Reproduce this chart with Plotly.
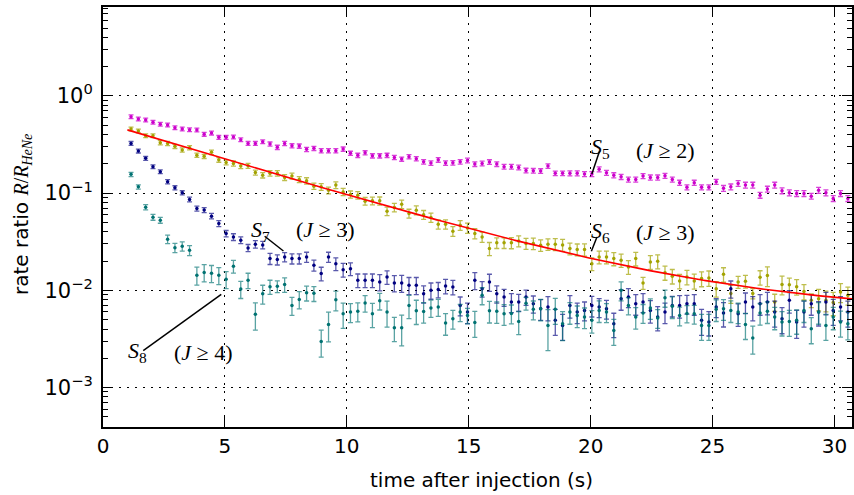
import math
import numpy as np
import plotly.graph_objects as go

# time bins after injection (s)
t = [round(1.15 + 0.3 * i, 2) for i in range(99)]

# S5 (J >= 2) rate ratio
s5 = [0.612, 0.579, 0.566, 0.536, 0.511, 0.502, 0.471, 0.457, 0.449, 0.446,
      0.403, 0.415, 0.375, 0.375, 0.378, 0.354, 0.325, 0.325, 0.338,
      0.320, 0.296, 0.325, 0.307, 0.305, 0.282, 0.289, 0.273, 0.273, 0.273,
      0.284, 0.257, 0.245, 0.260, 0.242, 0.242, 0.245, 0.233, 0.224, 0.237, 0.226,
      0.210, 0.204, 0.220, 0.204, 0.205, 0.210, 0.217, 0.199, 0.202, 0.209,
      0.199, 0.187, 0.187, 0.184, 0.171, 0.170, 0.169, 0.190, 0.160, 0.160,
      0.160, 0.160, 0.157, 0.157, 0.176, 0.162, 0.153, 0.147, 0.138, 0.138,
      0.150, 0.145, 0.145, 0.151, 0.138, 0.128, 0.115, 0.128, 0.115, 0.115, 0.131,
      0.112, 0.116, 0.126, 0.121, 0.121, 0.0953, 0.110, 0.121, 0.106, 0.101,
      0.0993, 0.0993, 0.0931, 0.107, 0.101, 0.0882, 0.0993, 0.0882]
s5_rel = [
    0.045, 0.045, 0.045, 0.045, 0.045, 0.045, 0.045, 0.045, 0.045, 0.045,
    0.045, 0.045, 0.045, 0.045, 0.045, 0.045, 0.045, 0.045, 0.045,
    0.05, 0.05, 0.05, 0.05, 0.05, 0.05, 0.05, 0.05, 0.05, 0.05,
    0.05, 0.05, 0.05, 0.05, 0.05, 0.05, 0.05, 0.05, 0.05, 0.05, 0.05,
    0.055, 0.055, 0.055, 0.055, 0.055, 0.055, 0.055, 0.055, 0.055, 0.055,
    0.055, 0.055, 0.055, 0.055, 0.055, 0.055, 0.055, 0.055, 0.055, 0.055,
    0.06, 0.06, 0.06, 0.06, 0.06, 0.06, 0.06, 0.06, 0.06, 0.06,
    0.06, 0.06, 0.06, 0.06, 0.06, 0.06, 0.06, 0.06, 0.06, 0.06, 0.06,
    0.07, 0.07, 0.07, 0.07, 0.07, 0.07, 0.07, 0.07, 0.07, 0.07,
    0.07, 0.07, 0.07, 0.07, 0.07, 0.07, 0.07, 0.07]

# S6 (J >= 3) rate ratio
s6 = [0.457, 0.436, 0.390, 0.390, 0.330, 0.325, 0.303, 0.278, 0.293, 0.246,
      0.239, 0.263, 0.220, 0.207, 0.202, 0.190, 0.191, 0.163, 0.153,
      0.160, 0.160, 0.145, 0.150, 0.138, 0.134, 0.118, 0.116, 0.107, 0.121,
      0.103, 0.0970, 0.0953, 0.0827, 0.0833, 0.0833, 0.0652, 0.0712, 0.0770, 0.0618, 0.0668,
      0.0600, 0.0562, 0.0479, 0.0479, 0.0406, 0.0468, 0.0439, 0.0384, 0.0354, 0.0269,
      0.0308, 0.0308, 0.0308, 0.0322, 0.0303, 0.0303, 0.0291, 0.0298, 0.0298, 0.0293,
      0.0269, 0.0263, 0.0263, 0.0188, 0.0220, 0.0220, 0.0212, 0.0204, 0.0174, 0.0212,
      0.0119, 0.0196, 0.0199, 0.0152, 0.0140, 0.0125, 0.0137, 0.0125, 0.0132, 0.0134, 0.0104,
      0.0146, 0.0093, 0.0122, 0.0124, 0.0093, 0.0136, 0.0142, 0.0076, 0.0115, 0.0114,
      0.0109, 0.0097, 0.0079, 0.0082, 0.0079, 0.0075, 0.0096, 0.0089]
s6_rel = [0.045, 0.045, 0.045, 0.045, 0.05, 0.05, 0.05, 0.05, 0.05, 0.05,
          0.05, 0.055, 0.055, 0.055, 0.06, 0.06, 0.06, 0.06, 0.065,
          0.065, 0.065, 0.07, 0.07, 0.07, 0.075, 0.075, 0.08, 0.08, 0.08,
          0.085, 0.085, 0.09, 0.09, 0.09, 0.095, 0.1, 0.1, 0.1, 0.105, 0.105,
          0.105, 0.11, 0.11, 0.11, 0.115, 0.115, 0.12, 0.12, 0.12, 0.155,
          0.125, 0.125, 0.13, 0.13, 0.13, 0.135, 0.135, 0.135, 0.14, 0.14,
          0.14, 0.14, 0.145, 0.15, 0.15, 0.15, 0.155, 0.155, 0.16, 0.16,
          0.14, 0.16, 0.165, 0.165, 0.17, 0.17, 0.17, 0.175, 0.175, 0.18, 0.18,
          0.17, 0.21, 0.14, 0.15, 0.12, 0.17, 0.23, 0.2, 0.22, 0.17,
          0.18, 0.18, 0.16, 0.25, 0.24, 0.27, 0.22, 0.21]

# S7 (J >= 3) rate ratio
s7 = [0.325, 0.271, 0.228, 0.187, 0.166, 0.131, 0.1135, 0.1008, 0.0861, 0.0695,
      0.067, 0.058, 0.0487, 0.0384, 0.0354, 0.0328, 0.0273, 0.0298, 0.0293,
      0.0212, 0.0207, 0.0220, 0.0212, 0.0212, 0.0220, 0.0181, 0.0149, 0.0220, 0.0188,
      0.0163, 0.0167, 0.0127, 0.0127, 0.0127, 0.0122, 0.0137, 0.0119, 0.0119, 0.0113, 0.0113,
      0.00925, 0.0100, 0.0102, 0.0111, 0.0108, 0.0070, 0.00597, 0.0127, 0.0104, 0.0122,
      0.00925, 0.00853, 0.00757, 0.00757, 0.00853, 0.00729, 0.00647, 0.00673, 0.00491, 0.00436,
      0.0070, 0.00597, 0.00622, 0.0070, 0.00673, 0.00647, 0.00454, 0.00821, 0.00853, 0.00729,
      0.00757, 0.00622, 0.00531, 0.00597, 0.0070, 0.0070, 0.00729, 0.00729, 0.00491, 0.00471, 0.00673,
      0.00583, 0.0104, 0.00575, 0.00757, 0.00673, 0.00729, 0.00757, 0.00597, 0.00511, 0.00789,
      0.00471, 0.00597, 0.00729, 0.00597, 0.00757, 0.00622, 0.00673, 0.00597]
s7_rel = [0.045, 0.045, 0.045, 0.045, 0.045, 0.05, 0.05, 0.05, 0.055, 0.06,
          0.06, 0.065, 0.07, 0.075, 0.08, 0.08, 0.085, 0.09, 0.09,
          0.13, 0.12, 0.11, 0.12, 0.12, 0.12, 0.13, 0.16, 0.12, 0.15,
          0.16, 0.15, 0.16, 0.16, 0.16, 0.19, 0.16, 0.19, 0.2, 0.2, 0.2,
          0.2, 0.19, 0.18, 0.17, 0.17, 0.22, 0.24, 0.2, 0.18, 0.2,
          0.2, 0.2, 0.22, 0.2, 0.18, 0.2, 0.24, 0.28, 0.3, 0.3,
          0.26, 0.24, 0.22, 0.24, 0.22, 0.22, 0.28, 0.24, 0.22, 0.24,
          0.22, 0.26, 0.28, 0.24, 0.24, 0.26, 0.22, 0.24, 0.3, 0.28, 0.22,
          0.28, 0.2, 0.26, 0.24, 0.28, 0.24, 0.26, 0.3, 0.3, 0.26,
          0.32, 0.3, 0.24, 0.28, 0.26, 0.3, 0.28, 0.3]

# S8 (J >= 4) rate ratio
s8 = [0.156, 0.116, 0.0717, 0.0566, 0.0527, 0.0336, 0.0274, 0.0284, 0.0258, 0.0143,
      0.0153, 0.0150, 0.0143, 0.0130, 0.0177, 0.0103, 0.0127, 0.00566, 0.00925,
      0.0109, 0.0110, 0.0115, 0.0070, 0.00807, 0.00942, 0.00931, 0.00298, 0.00446, 0.00798,
      0.00573, 0.00597, 0.00608, 0.00740, 0.00575, 0.00780, 0.00597, 0.00412, 0.00412, 0.0070, 0.00618,
      0.00604, 0.00660, 0.00673, 0.00460, 0.00511, 0.00597, 0.00552, 0.00468, 0.00888, 0.00615,
      0.0061, 0.00575, 0.00579, 0.00479, 0.00735, 0.00637, 0.00647, 0.00436, 0.00637, 0.00454,
      0.00597, 0.00552, 0.00531, 0.00491, 0.00622, 0.00597, 0.00387, 0.0100, 0.0070, 0.00531,
      0.00586, 0.0066, 0.0052, 0.00837, 0.00684, 0.00552, 0.00579, 0.00575, 0.00436, 0.00436, 0.00637,
      0.00647, 0.00622, 0.00597, 0.00446, 0.00324, 0.00586, 0.00608, 0.00531, 0.00471, 0.00479,
      0.00491, 0.00622, 0.00403, 0.00597, 0.00436, 0.00531, 0.00471, 0.00454]
s8_rel = [0.05, 0.05, 0.06, 0.07, 0.07, 0.1, 0.11, 0.11, 0.12, 0.21,
          0.2, 0.2, 0.2, 0.2, 0.15, 0.2, 0.18, 0.31, 0.22,
          0.165, 0.14, 0.17, 0.21, 0.2, 0.175, 0.175, 0.31, 0.34, 0.23,
          0.29, 0.22, 0.22, 0.195, 0.28, 0.195, 0.3, 0.28, 0.35, 0.27, 0.28,
          0.24, 0.2, 0.2, 0.25, 0.22, 0.2, 0.18, 0.3, 0.2, 0.25,
          0.25, 0.24, 0.22, 0.27, 0.15, 0.22, 0.25, 0.45, 0.3, 0.33,
          0.25, 0.25, 0.24, 0.26, 0.25, 0.22, 0.3, 0.22, 0.2, 0.25,
          0.22, 0.24, 0.22, 0.2, 0.25, 0.22, 0.2, 0.22, 0.3, 0.3, 0.25,
          0.24, 0.25, 0.24, 0.3, 0.32, 0.25, 0.25, 0.26, 0.28, 0.3,
          0.28, 0.25, 0.3, 0.25, 0.3, 0.26, 0.3, 0.32]

# exponential-plus-background fit to S6
fit_amp = 0.527
fit_tau = 5.68
fit_bg = 0.0058
fit_t0, fit_t1 = 1.0, 30.8

series = [
    (s5, s5_rel, "#cc00cc", "rgba(204,0,204,0.75)"),
    (s6, s6_rel, "#a3a300", "rgba(163,163,0,0.7)"),
    (s7, s7_rel, "#000080", "rgba(0,0,128,0.65)"),
    (s8, s8_rel, "#007272", "rgba(0,114,114,0.65)"),
]

fig = go.Figure()
for vals, rel, col, barcol in series:
    fig.add_trace(go.Scatter(
        x=t, y=vals, mode="markers",
        marker=dict(color=col, size=3.5),
        error_y=dict(type="data", array=[v * r for v, r in zip(vals, rel)],
                     color=barcol, thickness=1.3, width=2.5),
        showlegend=False, hoverinfo="skip"))

tf = np.linspace(fit_t0, fit_t1, 300)
fig.add_trace(go.Scatter(x=tf, y=fit_amp * np.exp(-tf / fit_tau) + fit_bg,
                         mode="lines", line=dict(color="#ff0000", width=1.6),
                         showlegend=False, hoverinfo="skip"))

# pointer lines from labels to the series
pointers = [
    ((20.37, 0.273), (t[63], s5[63])),
    ((20.26, 0.0354), (20.03, 0.0252)),
    ((6.63, 0.0360), (7.40, 0.0254)),
    ((1.65, 0.0024), (4.85, 0.0091)),
]
for (xa, ya), (xb, yb) in pointers:
    fig.add_trace(go.Scatter(x=[xa, xb], y=[ya, yb], mode="lines",
                             line=dict(color="black", width=1.5),
                             showlegend=False, hoverinfo="skip"))

serif = "Liberation Serif, DejaVu Serif, serif"
labels = [
    (20.41, 0.291, "<i>S</i><sub>5</sub>"),
    (23.07, 0.277, "(<i>J</i> ≥ 2)"),
    (20.41, 0.0396, "<i>S</i><sub>6</sub>"),
    (23.07, 0.0396, "(<i>J</i> ≥ 3)"),
    (6.46, 0.0406, "<i>S</i><sub>7</sub>"),
    (9.12, 0.0425, "(<i>J</i> ≥ 3)"),
    (1.43, 0.0023, "<i>S</i><sub>8</sub>"),
    (4.13, 0.0023, "(<i>J</i> ≥ 4)"),
]
annotations = [dict(x=x, y=math.log10(y), xref="x", yref="y", text=txt,
                    showarrow=False, font=dict(family=serif, size=22, color="black"),
                    xanchor="center", yanchor="middle")
               for x, y, txt in labels]

annotations.append(dict(
    x=0.505, y=-0.126, xref="paper", yref="paper",
    text="time after injection (s)", showarrow=False,
    font=dict(family="DejaVu Sans", size=20, color="black"),
    xanchor="center", yanchor="middle"))
annotations.append(dict(
    x=-0.108, y=0.505, xref="paper", yref="paper", textangle=-90,
    text='rate ratio <span style="font-family:Liberation Serif"><i>R</i>/<i>R</i>'
         '<sub><i>HeNe</i></sub></span>',
    showarrow=False, font=dict(family="DejaVu Sans", size=20, color="black"),
    xanchor="center", yanchor="middle"))

y_major = [1e-3, 1e-2, 1e-1, 1.0]
y_major_text = ["10<sup>−3</sup>", "10<sup>−2</sup>", "10<sup>−1</sup>", "10<sup>0</sup>"]
y_minor = [k * 10.0 ** e for e in range(-4, 1) for k in range(2, 10)]
x_major = [0, 5, 10, 15, 20, 25, 30]

axis_common = dict(
    showline=True, linecolor="black", linewidth=2, mirror="ticks",
    ticks="inside", ticklen=10, tickwidth=1.3, tickcolor="black",
    showgrid=True, gridcolor="black", gridwidth=1.3, griddash="2px,6px",
    zeroline=False,
)

fig.update_layout(
    width=854, height=495, autosize=False,
    margin=dict(l=103, r=0, t=7, b=68),
    paper_bgcolor="white", plot_bgcolor="white",
    xaxis=dict(range=[0, 30.72], tickvals=x_major,
               tickfont=dict(family="DejaVu Sans", size=20, color="black"),
               **axis_common),
    yaxis=dict(type="log", range=[-3.406, 0.915], tickvals=y_major,
               ticktext=y_major_text, ticklabelstandoff=4,
               tickfont=dict(family="DejaVu Sans", size=21, color="black"),
               minor=dict(tickvals=y_minor, ticks="inside", ticklen=5,
                          tickwidth=1.2, tickcolor="black", showgrid=False),
               **axis_common),
    annotations=annotations,
)

fig.write_html("out.html")
